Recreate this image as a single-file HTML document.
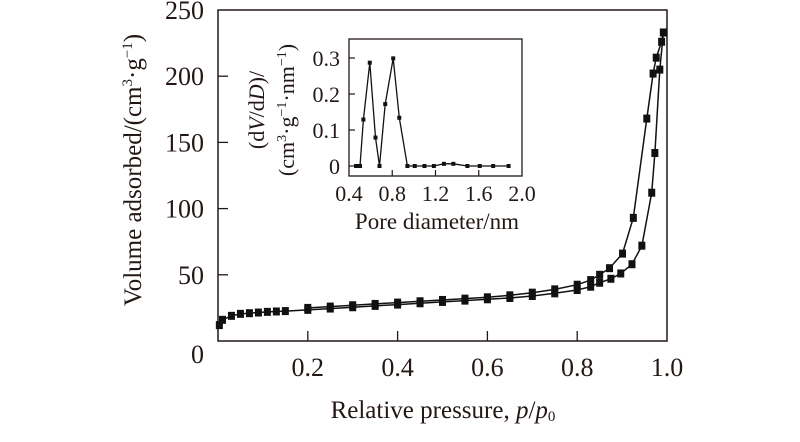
<!DOCTYPE html>
<html><head><meta charset="utf-8"><style>
html,body{margin:0;padding:0;background:#fff;}
svg{display:block;font-family:"Liberation Serif",serif;}
</style></head><body>
<svg id="chart" width="800" height="442" viewBox="0 0 800 442" xmlns="http://www.w3.org/2000/svg">
<g id="main"></g>
<g id="inset"></g>
</svg>
<script>
// main isotherm data
const adsP = [0.003,0.01,0.03,0.05,0.07,0.09,0.11,0.13,0.15,0.2,0.25,0.3,0.35,0.4,0.45,0.5,0.55,0.6,0.65,0.7,0.75,0.8,0.83,0.85,0.875,0.897,0.922,0.944,0.966,0.973,0.984,0.992];
const adsV = [12,16,19,20.5,21,21.5,22,22.3,22.6,23.5,24.5,25.5,26.5,27.5,28.5,29.5,30.5,31.5,32.5,34,36,38.5,41,44,47,51,58,72,112,142,205,233];
const desP = [0.992,0.988,0.976,0.969,0.955,0.925,0.901,0.872,0.85,0.83,0.8,0.75,0.7,0.65,0.6,0.55,0.5,0.45,0.4,0.35,0.3,0.25,0.2];
const desV = [233,226,214,202,168,93,66,55,50,46,42.5,39,36.5,34.5,33,32,31,30,29,28,27,26,25];
const mainXTicks = [0.2,0.4,0.6,0.8,1.0];
const mainXLabels = ["0.2","0.4","0.6","0.8","1.0"];
const mainYTicks = [0,50,100,150,200,250];
const mainYLabels = ["0","50","100","150","200","250"];
// inset PSD data
const psdD = [0.465,0.502,0.533,0.592,0.645,0.682,0.735,0.809,0.865,0.94,1.008,1.098,1.185,1.278,1.365,1.495,1.609,1.733,1.876];
const psdV = [0,0,0.129,0.287,0.079,0,0.172,0.299,0.134,0,0,0,0,0.006,0.006,0,0,0,0];
const insXTicks = [0.4,0.8,1.2,1.6,2.0];
const insXLabels = ["0.4","0.8","1.2","1.6","2.0"];
const insYTicks = [0,0.1,0.2,0.3];
const insYLabels = ["0","0.1","0.2","0.3"];

const NS="http://www.w3.org/2000/svg";
function mk(parent,tag,attrs,text){const e=document.createElementNS(NS,tag);for(const k in attrs)e.setAttribute(k,attrs[k]);if(text!==undefined)e.textContent=text;parent.appendChild(e);return e;}

// main axes
const M={l:218,r:667,t:10,b:341};
const mx=p=>M.l+p*(M.r-M.l);
const my=v=>M.b-v*(M.b-M.t)/250;
const gm=document.getElementById('main');
let box=mk(gm,'rect',{x:M.l,y:M.t,width:M.r-M.l,height:M.b-M.t,fill:'none',stroke:'#231815','stroke-width':1.5});


mainXTicks.forEach((t,i)=>{
  if(t<1) {const l=mk(gm,'line',{x1:mx(t),x2:mx(t),y1:M.b,y2:M.b-10,stroke:'#231815','stroke-width':1.3});
  
  }
  const tx=mk(gm,'text',{x:mx(t),y:376,'font-size':26,'text-anchor':'middle',fill:'#231815'},mainXLabels[i]);
  
  
});
mainYTicks.forEach((t,i)=>{
  if(t>0&&t<250){const l=mk(gm,'line',{x1:M.l,x2:M.l+10,y1:my(t),y2:my(t),stroke:'#231815','stroke-width':1.3});
  
  }
  const yy = t===0 ? 363 : my(t)+9;
  const tx=mk(gm,'text',{x:204,y:yy,'font-size':26,'text-anchor':'end',fill:'#231815'},mainYLabels[i]);
  
  
});
let xt=mk(gm,'text',{x:443,y:418,'font-size':25,'text-anchor':'middle',fill:'#231815'});
xt.innerHTML='Relative pressure, <tspan font-style="italic">p</tspan>/<tspan font-style="italic">p</tspan><tspan font-size="15" dy="3">0</tspan>';


let yt=mk(gm,'text',{x:0,y:0,'font-size':25,'text-anchor':'middle',fill:'#231815',transform:'translate(141,170) rotate(-90)'});
yt.innerHTML='Volume adsorbed/(cm<tspan font-size="15" dy="-9">3</tspan><tspan dy="9">·g</tspan><tspan font-size="15" dy="-9">−1</tspan><tspan dy="9">)</tspan>';



function series(g,xs,ys,fx,fy,name,mw,mh,sw){
  const pts=xs.map((x,i)=>fx(x).toFixed(1)+','+fy(ys[i]).toFixed(1)).join(' ');
  const pl=mk(g,'polyline',{points:pts,fill:'none',stroke:'#111','stroke-width':sw});
  
  
  xs.forEach((x,i)=>{
    const r=mk(g,'rect',{x:fx(x)-mw/2,y:fy(ys[i])-mh/2,width:mw,height:mh,fill:'#111'});
    
    
  });
}
series(gm,adsP,adsV,mx,my,'adsorption',7,8,1.5);
series(gm,desP,desV,mx,my,'desorption',7,8,1.5);

// inset axes
const I={l:349,r:522,t:39,b:176};
const ix=d=>I.l+(d-0.4)*(I.r-I.l)/1.6;
const iy=v=>166-v*360;
const gi=document.getElementById('inset');
let ib=mk(gi,'rect',{x:I.l,y:I.t,width:I.r-I.l,height:I.b-I.t,fill:'#fff',stroke:'#231815','stroke-width':1.3});


insXTicks.forEach((t,i)=>{
  if(t>0.4&&t<2){const l=mk(gi,'line',{x1:ix(t),x2:ix(t),y1:I.b,y2:I.b-6,stroke:'#231815','stroke-width':1.2});
  
  }
  const tx=mk(gi,'text',{x:ix(t),y:201,'font-size':22,'text-anchor':'middle',fill:'#231815'},insXLabels[i]);
  
  
});
insYTicks.forEach((t,i)=>{
  const l=mk(gi,'line',{x1:I.l,x2:I.l+6,y1:iy(t),y2:iy(t),stroke:'#231815','stroke-width':1.2});
  
  
  const tx=mk(gi,'text',{x:340,y:iy(t)+8,'font-size':22,'text-anchor':'end',fill:'#231815'},insYLabels[i]);
  
  
});
let ixt=mk(gi,'text',{x:437,y:229,'font-size':23,'text-anchor':'middle',fill:'#231815'},'Pore diameter/nm');


let iyt1=mk(gi,'text',{x:0,y:0,'font-size':22,'text-anchor':'middle',fill:'#231815',transform:'translate(264,110) rotate(-90)'});
iyt1.innerHTML='(d<tspan font-style="italic">V</tspan>/d<tspan font-style="italic">D</tspan>)/';


let iyt2=mk(gi,'text',{x:0,y:0,'font-size':22,'text-anchor':'middle',fill:'#231815',transform:'translate(294,110) rotate(-90)'});
iyt2.innerHTML='(cm<tspan font-size="14" dy="-8">3</tspan><tspan dy="8">·g</tspan><tspan font-size="14" dy="-8">−1</tspan><tspan dy="8">·nm</tspan><tspan font-size="14" dy="-8">−1</tspan><tspan dy="8">)</tspan>';


series(gi,psdD,psdV,ix,iy,'psd',4,4,1.3);
</script>
</body></html>
